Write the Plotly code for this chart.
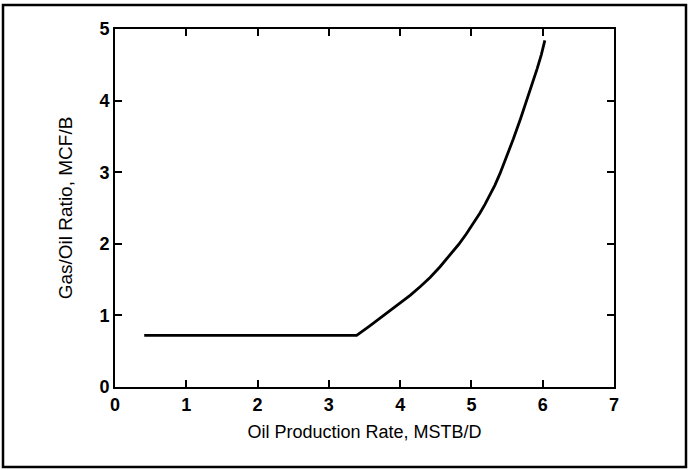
import plotly.graph_objects as go

# Data
oil_rate = [0.41, 3.39, 3.57, 3.76, 3.95, 4.14, 4.28, 4.42, 4.56, 4.70, 4.82, 4.93, 5.03, 5.12, 5.19, 5.26, 5.33, 5.40, 5.50, 5.59, 5.69, 5.78, 5.85, 5.92, 5.98, 6.03]
gor      = [0.72, 0.72, 0.85, 0.99, 1.13, 1.28, 1.40, 1.53, 1.68, 1.84, 1.99, 2.14, 2.29, 2.43, 2.55, 2.68, 2.82, 2.98, 3.23, 3.47, 3.75, 4.01, 4.22, 4.44, 4.64, 4.84]

x_ticks = [0, 1, 2, 3, 4, 5, 6, 7]
y_ticks = [0, 1, 2, 3, 4, 5]

W, H = 688, 470
L, R, T, B = 115, 614, 29, 387

fig = go.Figure()
fig.add_trace(go.Scatter(x=oil_rate, y=gor, mode="lines",
                         line=dict(color="black", width=2.8),
                         showlegend=False, hoverinfo="skip"))

tick_font = dict(family="Liberation Sans, Arial, sans-serif", size=18, color="black", weight="bold")
axis_common = dict(showgrid=False, zeroline=False, showline=True, linecolor="black",
                   linewidth=2, mirror="ticks", ticks="inside", ticklen=7, tickwidth=1.5,
                   tickcolor="black", tickfont=tick_font)

fig.update_xaxes(range=[0, 7], tickvals=x_ticks, ticktext=[str(v) for v in x_ticks],
                 title=dict(text="Oil Production Rate, MSTB/D", standoff=12,
                            font=dict(family="Liberation Sans, Arial, sans-serif", size=18, color="black")),
                 **axis_common)
fig.update_yaxes(range=[0, 5], tickvals=y_ticks, ticktext=[str(v) for v in y_ticks],
                 title=dict(text="Gas/Oil Ratio, MCF/B", standoff=22,
                            font=dict(family="Liberation Sans, Arial, sans-serif", size=19, color="black")),
                 **axis_common)

pw, ph = R - L, B - T
def px_x(p): return (p - L) / pw
def px_y(p): return (B - p) / ph

fig.add_shape(type="rect", xref="paper", yref="paper",
              x0=px_x(3), x1=px_x(686), y0=px_y(467), y1=px_y(5),
              line=dict(color="black", width=2.5), fillcolor="rgba(0,0,0,0)", layer="below")

fig.update_layout(width=W, height=H, margin=dict(l=L, r=W - R, t=T, b=H - B),
                  paper_bgcolor="white", plot_bgcolor="white")

fig.write_html("out.html")
